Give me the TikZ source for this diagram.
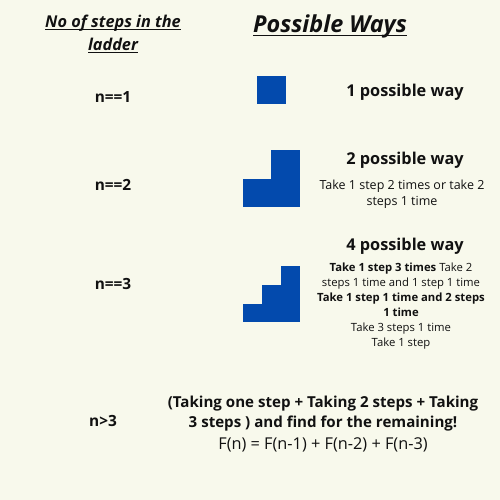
\documentclass[tikz,border=0pt]{standalone}
\usepackage{fontspec}
\setmainfont{Open Sans}
\newcommand\myul[2]{\setbox0\hbox{#2}\rlap{\vrule width\wd0 height -#1 depth \dimexpr#1+1.6pt\relax}\box0}
\definecolor{bg}{HTML}{F8F9EC}
\definecolor{stepblue}{HTML}{034AAD}
\definecolor{ink}{HTML}{111111}
\tikzset{
  lbl/.style={text=ink, font=\bfseries\fontsize{15.4}{17}\selectfont, align=center, inner sep=0pt},
  head/.style={text=ink, font=\bfseries\itshape\fontsize{16.3}{23}\selectfont, align=center, inner sep=0pt},
  big/.style={text=ink, font=\bfseries\itshape\fontsize{23.4}{26}\selectfont, align=center, inner sep=0pt},
  way/.style={text=ink, font=\bfseries\fontsize{16.3}{17}\selectfont, align=center, inner sep=0pt},
  small/.style={text=ink, font=\fontsize{12.5}{16}\selectfont, align=center, inner sep=0pt},
  smallb/.style={text=ink, font=\fontsize{11.3}{15}\selectfont, align=center, inner sep=0pt},
  block/.style={fill=stepblue, draw=none}
}
\begin{document}
\begin{tikzpicture}[x=1pt,y=-1pt]
\useasboundingbox (0,0) rectangle (500,500);
\fill[bg] (0,0) rectangle (500,500);
% headers
\node[head] (h1) at (113,34) {\myul{1.6pt}{No of steps in the}\\\myul{1.6pt}{ladder}};
\node[big] (h2) at (330,26) {\myul{2.6pt}{Possible Ways}};
% row 1
\node[lbl] (n1) at (113,97) {n==1};
\fill[block] (257,76) rectangle (286,104);
\node[way] (w1) at (405,92) {1 possible way};
% row 2
\node[lbl] (n2) at (113,185) {n==2};
\fill[block] (243,179) rectangle (300,207);
\fill[block] (271,150) rectangle (300,179);
\node[way] (w2) at (405,160) {2 possible way};
\node[small] (t2) at (402,194) {Take 1 step 2 times or take 2\\steps 1 time};
% row 3
\node[lbl] (n3) at (113,284) {n==3};
\fill[block] (243,304) rectangle (300,322);
\fill[block] (262,285) rectangle (300,304);
\fill[block] (281,266) rectangle (300,285);
\node[way] (w3) at (405,246) {4 possible way};
\node[smallb] (t3) at (401,306) {\textbf{Take 1 step 3 times} Take 2\\steps 1 time and 1 step 1 time\\\textbf{Take 1 step 1 time and 2 steps}\\\textbf{1 time}\\Take 3 steps 1 time\\Take 1 step};
% row 4
\node[lbl] (n4) at (103,421) {n>3};
\node[way, font=\bfseries\fontsize{15.1}{20}\selectfont] (t4a) at (323,414) {(Taking one step + Taking 2 steps + Taking\\3 steps ) and find for the remaining!};
\node[small, font=\fontsize{16.3}{17}\selectfont] (t4b) at (323,445) {F(n) = F(n-1) + F(n-2) + F(n-3)};
\end{tikzpicture}
\end{document}
